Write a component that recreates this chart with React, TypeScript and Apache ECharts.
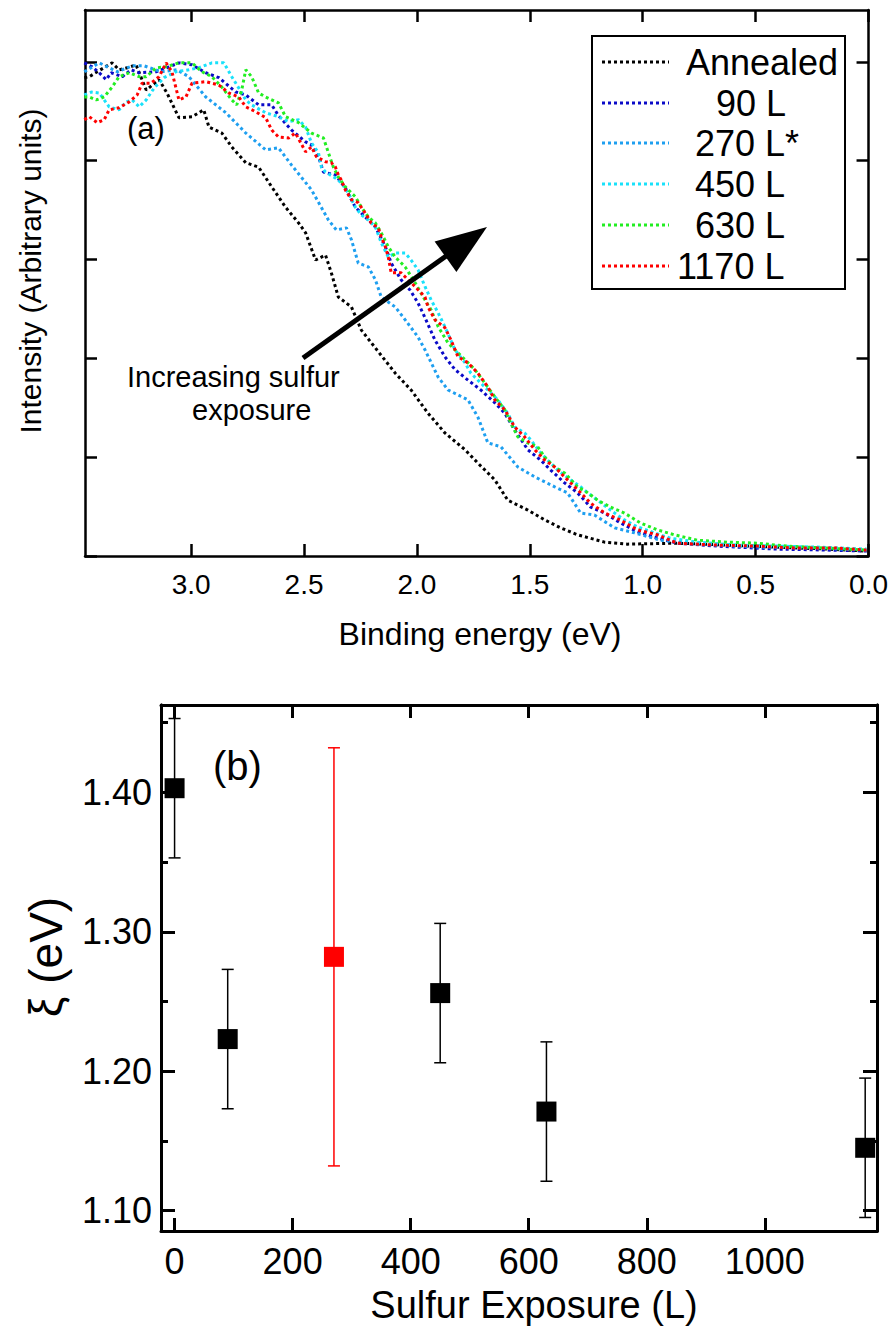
import React, { useEffect, useRef } from "react";
import * as echarts from "echarts";

const FONT = "'Liberation Sans', Arial, Helvetica, sans-serif";

// ---------- Panel (a): valence band spectra ----------
const energyTicks = [0, 0.5, 1.0, 1.5, 2.0, 2.5, 3.0];
const intensityTicks = [0, 0.2, 0.4, 0.6, 0.8, 1.0];
const seriesNames = ["Annealed", "90 L", "270 L*", "450 L", "630 L", "1170 L"];
const seriesColors = ["#000000", "#0a0ac8", "#1e9ff0", "#19e1fa", "#22ee22", "#ff0000"];

const annealed: number[][] = [
  [3.473, 0.968], [3.451, 0.970], [3.416, 0.980], [3.350, 0.998], [3.319, 0.984], [3.283, 0.988], [3.244, 0.994],
  [3.199, 0.943], [3.142, 0.964], [3.107, 0.937], [3.054, 0.887], [2.996, 0.889], [2.944, 0.903], [2.921, 0.868],
  [2.864, 0.856], [2.820, 0.828], [2.758, 0.796], [2.701, 0.787], [2.643, 0.747], [2.582, 0.706], [2.524, 0.674],
  [2.493, 0.654], [2.449, 0.599], [2.405, 0.609], [2.379, 0.573], [2.348, 0.524], [2.290, 0.504], [2.246, 0.457],
  [2.184, 0.421], [2.096, 0.370], [2.026, 0.336], [1.951, 0.289], [1.876, 0.249], [1.787, 0.215], [1.730, 0.188],
  [1.655, 0.154], [1.598, 0.113], [1.509, 0.093], [1.434, 0.073], [1.364, 0.057], [1.289, 0.043], [1.169, 0.028],
  [1.068, 0.024], [0.847, 0.026], [0.627, 0.022], [0.406, 0.018], [0.185, 0.014], [0.009, 0.010],
];

const exposure90: number[][] = [
  [3.473, 0.998], [3.438, 0.990], [3.407, 0.978], [3.376, 0.964], [3.354, 0.978], [3.305, 0.970], [3.266, 0.984],
  [3.230, 0.978], [3.155, 0.980], [3.098, 0.990], [3.054, 0.998], [2.996, 0.994], [2.935, 0.978], [2.877, 0.968],
  [2.802, 0.939], [2.758, 0.933], [2.701, 0.913], [2.643, 0.913], [2.613, 0.891], [2.555, 0.862], [2.493, 0.838],
  [2.467, 0.832], [2.436, 0.808], [2.414, 0.777], [2.361, 0.771], [2.317, 0.745], [2.273, 0.706], [2.229, 0.686],
  [2.184, 0.666], [2.140, 0.626], [2.114, 0.593], [2.070, 0.559], [2.030, 0.538], [1.995, 0.512], [1.964, 0.482],
  [1.920, 0.437], [1.876, 0.403], [1.831, 0.377], [1.774, 0.356], [1.717, 0.336], [1.655, 0.310], [1.611, 0.289],
  [1.567, 0.255], [1.509, 0.215], [1.452, 0.194], [1.408, 0.174], [1.346, 0.148], [1.289, 0.128], [1.231, 0.099],
  [1.169, 0.087], [1.099, 0.067], [1.024, 0.049], [0.949, 0.038], [0.847, 0.026], [0.671, 0.020], [0.406, 0.014],
  [0.185, 0.012], [0.009, 0.010],
];

const exposure270: number[][] = [
  [3.473, 0.980], [3.407, 0.998], [3.327, 0.980], [3.261, 0.992], [3.208, 0.992], [3.133, 0.980], [3.063, 0.984],
  [3.010, 0.970], [2.935, 0.929], [2.846, 0.897], [2.758, 0.856], [2.670, 0.822], [2.613, 0.826], [2.555, 0.791],
  [2.467, 0.741], [2.392, 0.680], [2.357, 0.660], [2.312, 0.664], [2.290, 0.640], [2.260, 0.593], [2.215, 0.585],
  [2.184, 0.559], [2.158, 0.524], [2.096, 0.504], [2.052, 0.478], [1.995, 0.443], [1.964, 0.417], [1.906, 0.362],
  [1.862, 0.336], [1.774, 0.316], [1.730, 0.281], [1.686, 0.229], [1.628, 0.221], [1.553, 0.180], [1.478, 0.160],
  [1.390, 0.140], [1.333, 0.128], [1.275, 0.087], [1.214, 0.083], [1.125, 0.057], [1.037, 0.047], [0.922, 0.032],
  [0.759, 0.024], [0.494, 0.018], [0.229, 0.016], [0.009, 0.012],
];

const exposure450: number[][] = [
  [3.473, 0.933], [3.442, 0.939], [3.407, 0.937], [3.363, 0.909], [3.319, 0.903], [3.288, 0.919], [3.261, 0.923],
  [3.230, 0.909], [3.199, 0.923], [3.164, 0.947], [3.120, 0.968], [3.067, 0.980], [3.010, 0.984], [2.966, 0.988],
  [2.908, 0.998], [2.855, 0.998], [2.820, 0.970], [2.789, 0.947], [2.758, 0.923], [2.732, 0.913], [2.670, 0.897],
  [2.613, 0.889], [2.568, 0.879], [2.524, 0.883], [2.493, 0.868], [2.467, 0.836], [2.436, 0.816], [2.423, 0.787],
  [2.405, 0.777], [2.361, 0.765], [2.335, 0.755], [2.304, 0.735], [2.273, 0.706], [2.246, 0.690], [2.215, 0.680],
  [2.184, 0.666], [2.158, 0.634], [2.127, 0.605], [2.096, 0.613], [2.052, 0.613], [2.026, 0.599], [1.995, 0.579],
  [1.964, 0.545], [1.937, 0.518], [1.906, 0.492], [1.876, 0.464], [1.831, 0.417], [1.787, 0.391], [1.761, 0.370],
  [1.730, 0.356], [1.686, 0.336], [1.642, 0.316], [1.598, 0.289], [1.567, 0.261], [1.523, 0.249], [1.496, 0.235],
  [1.452, 0.209], [1.421, 0.194], [1.377, 0.174], [1.319, 0.154], [1.275, 0.140], [1.244, 0.128], [1.200, 0.113],
  [1.143, 0.093], [1.081, 0.073], [1.024, 0.059], [0.949, 0.047], [0.878, 0.036], [0.759, 0.028], [0.583, 0.022],
  [0.406, 0.020], [0.229, 0.018], [0.009, 0.014],
];

const exposure630: number[][] = [
  [3.473, 0.929], [3.451, 0.929], [3.420, 0.923], [3.385, 0.929], [3.350, 0.949], [3.319, 0.970], [3.274, 0.978],
  [3.230, 0.970], [3.199, 0.970], [3.155, 0.988], [3.111, 0.990], [3.054, 0.998], [2.996, 0.998], [2.952, 0.980],
  [2.908, 0.970], [2.864, 0.949], [2.820, 0.923], [2.798, 0.913], [2.776, 0.943], [2.758, 0.984], [2.732, 0.970],
  [2.701, 0.937], [2.670, 0.929], [2.613, 0.917], [2.582, 0.889], [2.524, 0.877], [2.467, 0.856], [2.414, 0.846],
  [2.392, 0.816], [2.370, 0.787], [2.348, 0.767], [2.317, 0.747], [2.273, 0.727], [2.246, 0.706], [2.215, 0.686],
  [2.184, 0.674], [2.158, 0.654], [2.127, 0.626], [2.096, 0.605], [2.052, 0.585], [2.008, 0.553], [1.964, 0.518],
  [1.937, 0.498], [1.906, 0.464], [1.862, 0.431], [1.831, 0.417], [1.787, 0.397], [1.743, 0.377], [1.699, 0.350],
  [1.655, 0.322], [1.611, 0.296], [1.584, 0.269], [1.553, 0.241], [1.509, 0.229], [1.465, 0.221], [1.434, 0.200],
  [1.390, 0.180], [1.346, 0.168], [1.289, 0.140], [1.244, 0.128], [1.200, 0.113], [1.143, 0.099], [1.081, 0.087],
  [1.011, 0.067], [0.936, 0.053], [0.861, 0.043], [0.759, 0.032], [0.627, 0.028], [0.494, 0.026], [0.362, 0.020],
  [0.185, 0.016], [0.009, 0.012],
];

const exposure1170: number[][] = [
  [3.473, 0.883], [3.451, 0.889], [3.416, 0.877], [3.385, 0.883], [3.363, 0.903], [3.319, 0.907], [3.274, 0.919],
  [3.239, 0.933], [3.217, 0.957], [3.177, 0.957], [3.142, 0.970], [3.111, 0.998], [3.085, 0.980], [3.054, 0.923],
  [3.023, 0.929], [2.996, 0.957], [2.935, 0.960], [2.877, 0.953], [2.833, 0.937], [2.789, 0.929], [2.758, 0.909],
  [2.714, 0.899], [2.670, 0.887], [2.643, 0.862], [2.613, 0.848], [2.568, 0.846], [2.538, 0.856], [2.493, 0.818],
  [2.467, 0.828], [2.445, 0.808], [2.405, 0.798], [2.379, 0.796], [2.361, 0.787], [2.348, 0.771], [2.335, 0.761],
  [2.317, 0.741], [2.290, 0.721], [2.260, 0.715], [2.229, 0.694], [2.202, 0.674], [2.171, 0.664], [2.158, 0.646],
  [2.140, 0.626], [2.127, 0.605], [2.114, 0.573], [2.070, 0.573], [2.039, 0.559], [2.008, 0.545], [1.964, 0.524],
  [1.951, 0.504], [1.920, 0.478], [1.876, 0.462], [1.849, 0.437], [1.818, 0.403], [1.774, 0.391], [1.730, 0.370],
  [1.686, 0.342], [1.655, 0.316], [1.611, 0.296], [1.567, 0.261], [1.523, 0.241], [1.478, 0.215], [1.434, 0.194],
  [1.390, 0.180], [1.333, 0.154], [1.275, 0.128], [1.231, 0.107], [1.169, 0.087], [1.099, 0.073], [1.024, 0.053],
  [0.936, 0.043], [0.847, 0.026], [0.671, 0.022], [0.494, 0.020], [0.318, 0.016], [0.141, 0.016], [0.009, 0.012],
];

const spectra = [annealed, exposure90, exposure270, exposure450, exposure630, exposure1170];

// ---------- Panel (b): xi vs sulfur exposure ----------
const exposures = [0, 90, 270, 450, 630, 1170];
const xi = [1.403, 1.223, 1.282, 1.256, 1.171, 1.145];
const xiErr = [0.05, 0.05, 0.15, 0.05, 0.05, 0.05];
const starredExposure = 270;
const exposureTicks = [0, 200, 400, 600, 800, 1000];
const xiMajorTicks = [1.1, 1.2, 1.3, 1.4];
const xiMinorTicks = [1.15, 1.25, 1.35, 1.45];

const BLACK = "#000000";
const RED = "#ff0000";

function buildOption(): any {
  const line2 = { color: BLACK, width: 2.5 };
  const line3 = { color: BLACK, width: 3 };
  const labelBase = { color: BLACK, fontFamily: FONT };

  const mkX = (grid: number, pos: string, min: number, max: number, ticks: number[], len: number, ls: any, label: any, inverse = false) => ({
    type: "value",
    gridIndex: grid,
    position: pos,
    min,
    max,
    inverse,
    axisLine: { show: true, onZero: false, lineStyle: ls },
    axisTick: { show: true, inside: true, length: len, customValues: ticks, lineStyle: ls },
    axisLabel: label ? { show: true, customValues: ticks, ...label } : { show: false },
    splitLine: { show: false },
  });

  const xAxis = [
    mkX(0, "bottom", 0, 3.47, energyTicks, 12, line2, { ...labelBase, fontSize: 28, margin: 14, formatter: (v: number) => v.toFixed(1) }, true),
    mkX(0, "top", 0, 3.47, energyTicks, 12, line2, null, true),
    mkX(1, "bottom", -23, 1190, exposureTicks, 13, line3, { ...labelBase, fontSize: 36, margin: 12, formatter: (v: number) => String(v) }),
    mkX(1, "top", -23, 1190, exposureTicks, 13, line3, null),
  ];
  const yAxis = [
    mkX(0, "left", 0, 1.105, intensityTicks, 12, line2, null),
    mkX(0, "right", 0, 1.105, intensityTicks, 12, line2, null),
    mkX(1, "left", 1.0853, 1.4627, xiMajorTicks, 14, line3, { ...labelBase, fontSize: 36, margin: 9, formatter: (v: number) => v.toFixed(2) }),
    mkX(1, "left", 1.0853, 1.4627, xiMinorTicks, 7, line3, null),
    mkX(1, "right", 1.0853, 1.4627, xiMajorTicks, 14, line3, null),
    mkX(1, "right", 1.0853, 1.4627, xiMinorTicks, 7, line3, null),
  ];

  const lineSeries = spectra.map((data, i) => ({
    type: "line",
    name: seriesNames[i],
    xAxisIndex: 0,
    yAxisIndex: 0,
    data,
    symbol: "none",
    showSymbol: false,
    smooth: false,
    z: 2 + i,
    lineStyle: { color: seriesColors[i], width: 3, type: [3, 3] },
  }));

  const errorSeries = {
    type: "custom",
    xAxisIndex: 2,
    yAxisIndex: 2,
    encode: { x: 0, y: 1 },
    z: 3,
    data: exposures.map((x, i) => [x, xi[i], xiErr[i]]),
    renderItem: (_p: any, api: any) => {
      const x = api.value(0);
      const y = api.value(1);
      const e = api.value(2);
      const top = api.coord([x, y + e]);
      const bot = api.coord([x, y - e]);
      const color = x === starredExposure ? RED : BLACK;
      const hw = 6;
      const style = { stroke: color, lineWidth: 1.5 };
      return {
        type: "group",
        children: [
          { type: "line", shape: { x1: top[0], y1: top[1], x2: bot[0], y2: bot[1] }, style },
          { type: "line", shape: { x1: top[0] - hw, y1: top[1], x2: top[0] + hw, y2: top[1] }, style },
          { type: "line", shape: { x1: bot[0] - hw, y1: bot[1], x2: bot[0] + hw, y2: bot[1] }, style },
        ],
      };
    },
  };

  const scatterSeries = {
    type: "scatter",
    xAxisIndex: 2,
    yAxisIndex: 2,
    symbol: "rect",
    symbolSize: 20,
    z: 5,
    itemStyle: { opacity: 1 },
    data: exposures.map((x, i) => ({
      value: [x, xi[i]],
      itemStyle: { color: x === starredExposure ? RED : BLACK, opacity: 1 },
    })),
  };

  const txt = (text: string, x: number, y: number, size: number, extra: any = {}) => ({
    type: "text",
    x,
    y,
    z: 100,
    ...extra,
    style: { text, fill: BLACK, fontSize: size, fontFamily: FONT, align: "left", verticalAlign: "middle", ...(extra.style || {}) },
  });

  const legendRows = [62, 103, 143, 184, 225, 266];
  const legendTextX = [686, 716, 695, 695, 695, 677];

  const graphic: any[] = [
    // axis titles
    txt("Intensity (Arbitrary units)", 30, 271, 30, { rotation: Math.PI / 2, style: { align: "center" } }),
    txt("Binding energy (eV)", 480, 634, 32, { style: { align: "center" } }),
    txt("\u03be (eV)", 46, 957, 46, { rotation: Math.PI / 2, style: { align: "center" } }),
    txt("Sulfur Exposure (L)", 534, 1305, 38, { style: { align: "center" } }),
    // panel labels
    txt("(a)", 127, 128, 31),
    txt("(b)", 213, 766, 40),
    // annotation
    txt("Increasing sulfur", 127, 377, 29),
    txt("exposure", 192, 410, 29),
    {
      type: "line",
      z: 100,
      shape: { x1: 303, y1: 358, x2: 449, y2: 254 },
      style: { stroke: BLACK, lineWidth: 5 },
    },
    {
      type: "polygon",
      z: 100,
      shape: { points: [[487, 227], [434.6, 241.4], [456.4, 272]] },
      style: { fill: BLACK },
    },
    // legend box
    {
      type: "rect",
      z: 90,
      shape: { x: 592, y: 36, width: 253, height: 253 },
      style: { fill: "#ffffff", stroke: BLACK, lineWidth: 2 },
    },
  ];
  seriesNames.forEach((name, i) => {
    graphic.push({
      type: "line",
      z: 95,
      shape: { x1: 602, y1: legendRows[i], x2: 669, y2: legendRows[i] },
      style: { stroke: seriesColors[i], lineWidth: 3, lineDash: [3, 3] },
    });
    graphic.push(txt(name, legendTextX[i], legendRows[i], 36));
  });

  return {
    animation: false,
    backgroundColor: "#ffffff",
    textStyle: { fontFamily: FONT },
    grid: [
      { left: 85, top: 10, width: 786, height: 546 },
      { left: 161, top: 705, width: 716, height: 526 },
    ],
    xAxis,
    yAxis,
    series: [...lineSeries, errorSeries, scatterSeries],
    graphic,
  };
}

export default function App() {
  const ref = useRef<HTMLDivElement>(null);
  useEffect(() => {
    if (!ref.current) return;
    const chart = echarts.init(ref.current, null, { renderer: "svg" });
    chart.setOption(buildOption());
    return () => chart.dispose();
  }, []);
  return (
    <div
      ref={ref}
      style={{ position: "fixed", left: 0, top: 0, width: 891, height: 1333, background: "#ffffff" }}
    />
  );
}
